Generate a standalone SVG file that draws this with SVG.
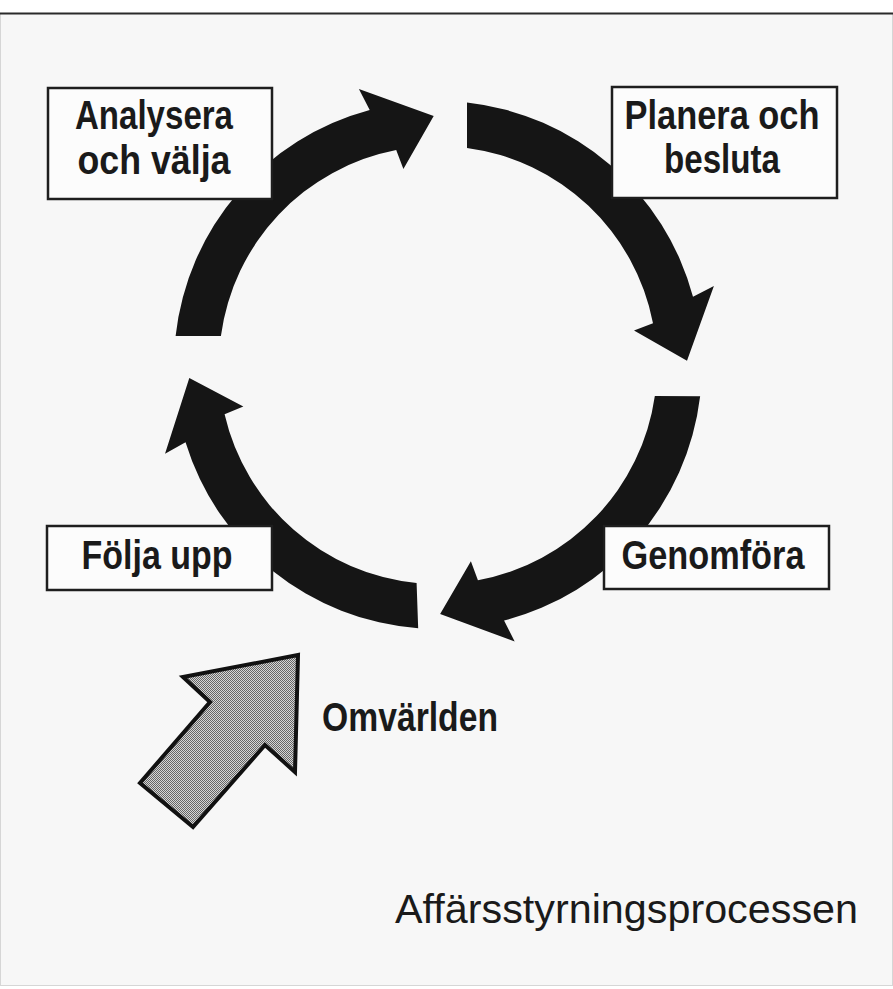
<svg xmlns="http://www.w3.org/2000/svg" width="893" height="989" viewBox="0 0 893 989">
<style>
.box{fill:#fcfcfc;stroke:#1e1e1e;stroke-width:2.5}
.lbl{font-family:"Liberation Sans Narrow","Liberation Sans",Arial,sans-serif;font-weight:bold;font-size:40px;fill:#1a1a1a;text-anchor:middle}
.cap{font-family:"Liberation Sans",Arial,sans-serif;font-size:40px;fill:#1a1a1a}
.flow{fill:#151515}
</style>
<defs>
<pattern id="dots" width="2" height="2" patternUnits="userSpaceOnUse">
<rect width="2" height="2" fill="#d6d6d6"/>
<rect width="1" height="1" fill="#666"/>
<rect x="1" y="1" width="1" height="1" fill="#666"/>
</pattern>
<path id="arc" d="M175.6,336 A264,264 0 0 1 369.7,110 L358.9,89.1 L433.7,116 L403.4,169 L396.2,150 A219,219 0 0 0 220.9,336 Z"/>
</defs>
<rect width="893" height="989" fill="#ffffff"/>
<rect x="0.5" y="13.5" width="892" height="972" fill="#f7f7f7" stroke="#d6d6d6" stroke-width="1"/>
<line x1="0" y1="13.5" x2="893" y2="13.5" stroke="#2a2a2a" stroke-width="2"/>

<g id="connectors">
<use href="#arc" class="flow"/>
<use href="#arc" class="flow" transform="rotate(90 438 365)"/>
<use href="#arc" class="flow" transform="rotate(180.5 438 365)"/>
<use href="#arc" class="flow" transform="rotate(268 438 365)"/>
</g>

<g id="analysera">
<rect class="box" x="48" y="88" width="224" height="111"/>
<text class="lbl" x="154" y="129" textLength="158" lengthAdjust="spacingAndGlyphs">Analysera</text>
<text class="lbl" x="154" y="174" textLength="153" lengthAdjust="spacingAndGlyphs">och välja</text>
</g>

<g id="planera">
<rect class="box" x="612" y="87" width="225" height="111"/>
<text class="lbl" x="722" y="129" textLength="195" lengthAdjust="spacingAndGlyphs">Planera och</text>
<text class="lbl" x="722" y="173" textLength="116" lengthAdjust="spacingAndGlyphs">besluta</text>
</g>

<g id="genomfora">
<rect class="box" x="604" y="526" width="225" height="63"/>
<text class="lbl" x="713" y="569" textLength="183" lengthAdjust="spacingAndGlyphs">Genomföra</text>
</g>

<g id="folja">
<rect class="box" x="47" y="526" width="225" height="64"/>
<text class="lbl" x="157" y="569" textLength="151" lengthAdjust="spacingAndGlyphs">Följa upp</text>
</g>

<g id="omvarlden">
<polygon points="298,655 183,677 210,702 140,783 193,827 265,745 295,772" fill="url(#dots)" stroke="#111" stroke-width="4" stroke-linejoin="miter"/>
<text class="lbl" x="410" y="731" textLength="176" lengthAdjust="spacingAndGlyphs">Omvärlden</text>
</g>

<g id="title">
<text class="cap" x="395" y="923" textLength="463" lengthAdjust="spacingAndGlyphs">Affärsstyrningsprocessen</text>
</g>
</svg>
